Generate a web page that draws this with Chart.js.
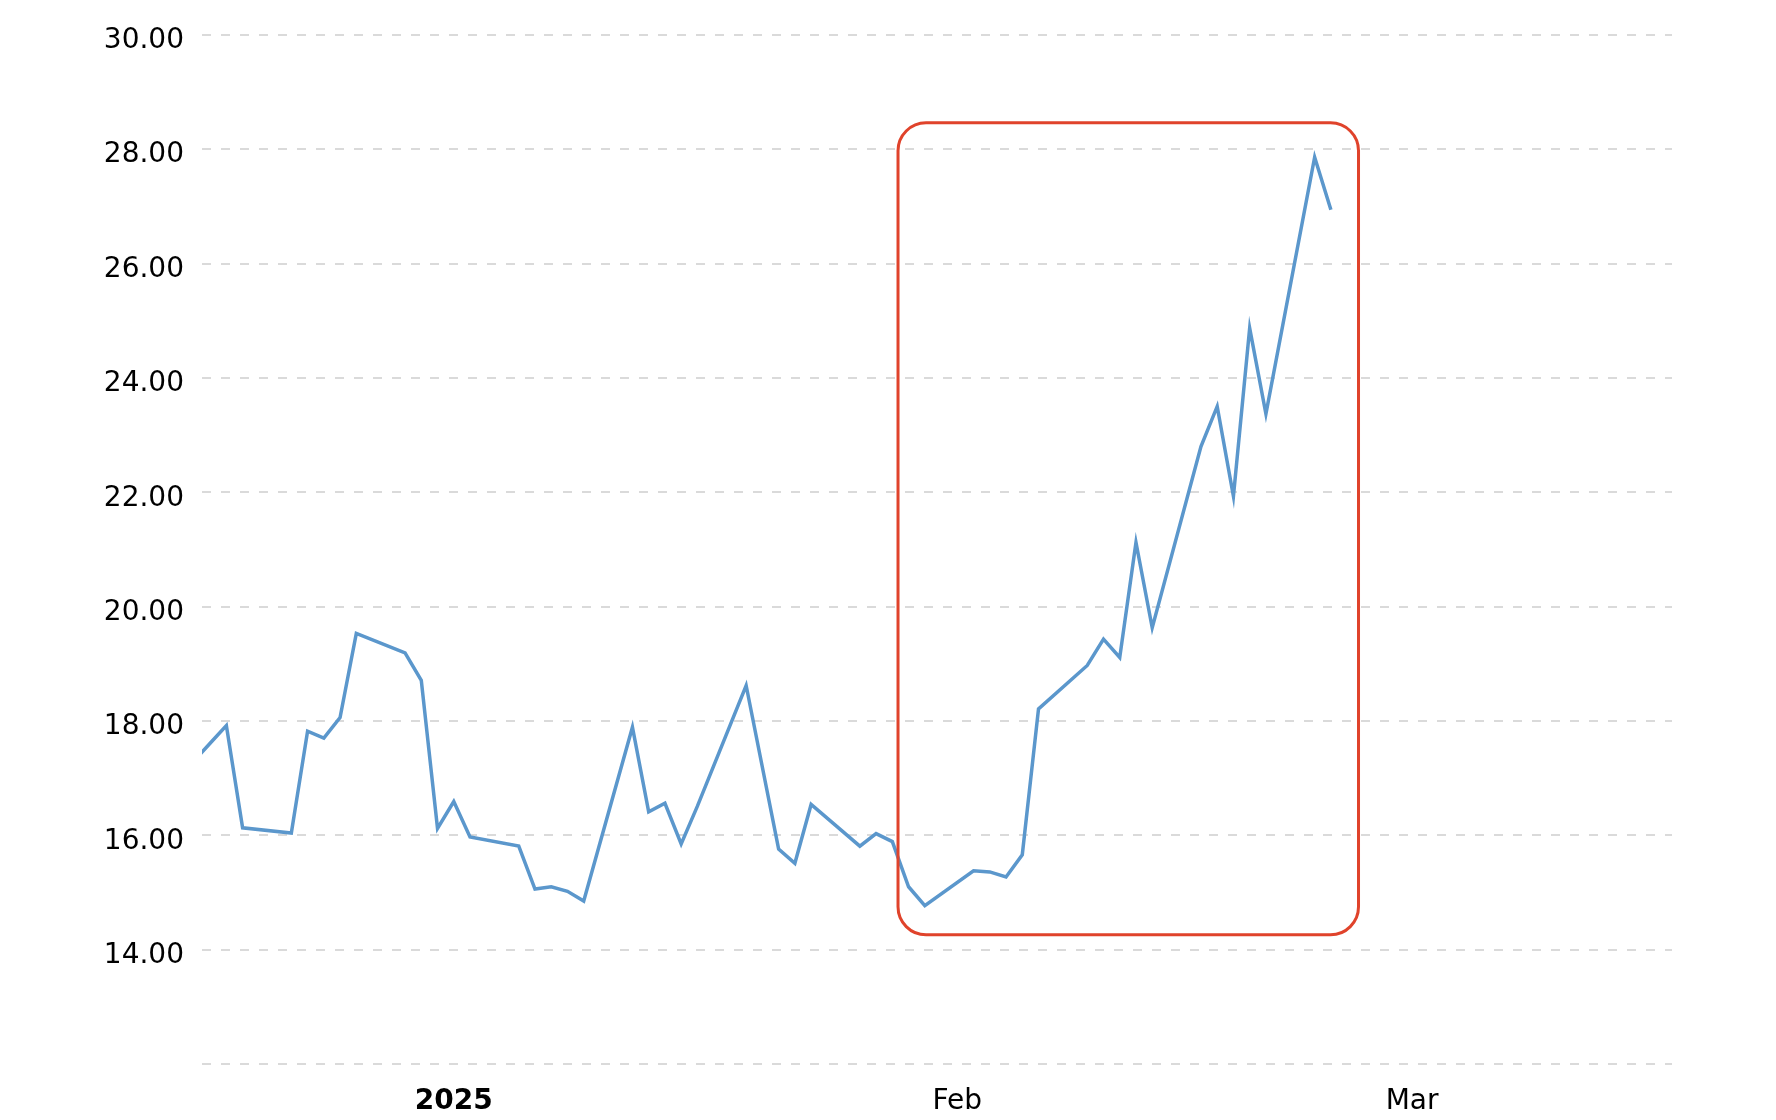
<!DOCTYPE html>
<html>
<head>
<meta charset="utf-8">
<title>Price chart</title>
<script src="https://cdn.jsdelivr.net/npm/chart.js@4"></script>
<style>
  html, body { margin: 0; padding: 0; background: #ffffff; }
  #wrap { position: relative; width: 1776px; height: 1120px; }
</style>
</head>
<body>
<div id="wrap"><canvas id="priceChart"></canvas></div>
<script>
// dates as placed on the axis, and closing values
const dates = [
  "2024-12-16", "2024-12-17", "2024-12-18", "2024-12-19",
  "2024-12-22", "2024-12-23", "2024-12-24", "2024-12-25", "2024-12-26",
  "2024-12-29", "2024-12-30", "2024-12-31", "2025-01-01", "2025-01-02",
  "2025-01-05", "2025-01-06", "2025-01-07", "2025-01-08", "2025-01-09",
  "2025-01-12", "2025-01-13", "2025-01-14", "2025-01-15", "2025-01-16",
  "2025-01-19", "2025-01-21", "2025-01-22", "2025-01-23",
  "2025-01-26", "2025-01-27", "2025-01-28", "2025-01-29", "2025-01-30",
  "2025-02-02", "2025-02-03", "2025-02-04", "2025-02-05", "2025-02-06",
  "2025-02-09", "2025-02-10", "2025-02-11", "2025-02-12", "2025-02-13",
  "2025-02-16", "2025-02-17", "2025-02-18", "2025-02-19", "2025-02-20",
  "2025-02-23", "2025-02-24"
];
const prices = [
  17.30, 17.61, 17.92, 16.13,
  16.04, 17.82, 17.70, 18.06, 19.53,
  19.19, 18.71, 16.12, 16.59, 15.97,
  15.81, 15.06, 15.10, 15.02, 14.85,
  17.89, 16.41, 16.56, 15.85, 16.51,
  18.62, 15.76, 15.51, 16.54,
  15.81, 16.03, 15.89, 15.10, 14.77,
  15.38, 15.36, 15.27, 15.66, 18.21,
  18.97, 19.43, 19.11, 21.12, 19.63,
  22.80, 23.50, 21.93, 24.87, 23.37,
  27.86, 26.94
];

const tickDates = ["2025-01-01", "2025-02-01", "2025-03-01"];
const tickLabels = ["2025", "Feb", "Mar"];

// visible date window of the x axis (days from 1 Jan 2025)
const xRange = [-15.5, 75];
const yRange = [12, 30];

// highlighted period: from/to day and price band
const highlight = { from: 27.35, to: 55.7, low: 14.26, high: 28.46 };

const DAY = 86400000;
const ORIGIN = Date.UTC(2025, 0, 1);
const toDay = (s) => (Date.parse(s + "T00:00:00Z") - ORIGIN) / DAY;

const points = dates.map((d, i) => ({ x: toDay(d), y: prices[i] }));
const tickDays = tickDates.map(toDay);

const highlightBox = {
  id: "highlightBox",
  afterDatasetsDraw: (chart) => {
    const { ctx, scales } = chart;
    const x0 = scales.x.getPixelForValue(highlight.from);
    const x1 = scales.x.getPixelForValue(highlight.to);
    const y0 = scales.y.getPixelForValue(highlight.high);
    const y1 = scales.y.getPixelForValue(highlight.low);
    ctx.save();
    ctx.strokeStyle = "#e0432b";
    ctx.lineWidth = 3;
    ctx.beginPath();
    ctx.roundRect(x0, y0, x1 - x0, y1 - y0, 28);
    ctx.stroke();
    ctx.restore();
  },
};

const ctx = document.getElementById("priceChart");

new Chart(ctx.getContext("2d"), {
  type: "line",
  data: {
    datasets: [
      {
        data: points,
        borderColor: "#5b97cc",
        borderWidth: 3.5,
        pointRadius: 0,
        tension: 0,
        fill: false,
      },
    ],
  },
  options: {
    responsive: true,
    maintainAspectRatio: false,
    animation: false,
    events: [],
    layout: { padding: { top: 31, right: 104, bottom: 0, left: 0 } },
    plugins: {
      legend: { display: false },
      tooltip: { enabled: false },
    },
    scales: {
      x: {
        type: "linear",
        min: xRange[0],
        max: xRange[1],
        grid: { display: false, drawTicks: false },
        border: { display: false },
        afterBuildTicks: (scale) => {
          scale.ticks = tickDays.map((v) => ({ value: v }));
        },
        afterFit: (scale) => {
          scale.height = 56;
        },
        ticks: {
          padding: 21,
          maxRotation: 0,
          autoSkip: false,
          color: "#000000",
          font: (c) => ({
            family: "'DejaVu Sans', Verdana, sans-serif",
            size: 28,
            weight: c.index === 0 ? "bold" : "normal",
          }),
          callback: (value) => {
            const i = tickDays.indexOf(value);
            return i >= 0 ? tickLabels[i] : "";
          },
        },
      },
      y: {
        min: yRange[0],
        max: yRange[1],
        grid: {
          color: "#dadada",
          lineWidth: 2,
          drawTicks: false,
        },
        border: { display: false, dash: [9, 10] },
        afterFit: (scale) => {
          scale.width = 202;
        },
        ticks: {
          stepSize: 2,
          padding: 18,
          labelOffset: 6,
          color: "#000000",
          font: { family: "'DejaVu Sans', Verdana, sans-serif", size: 28 },
          callback: (value) => (value === yRange[0] ? "" : value.toFixed(2)),
        },
      },
    },
  },
  plugins: [highlightBox],
});
</script>
</body>
</html>
